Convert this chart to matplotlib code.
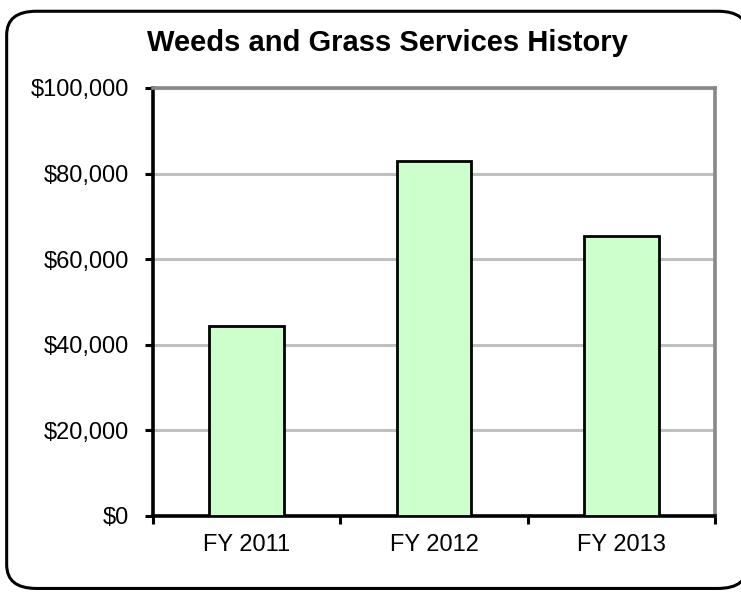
import matplotlib
matplotlib.use("Agg")
import matplotlib.pyplot as plt
from matplotlib.patches import FancyBboxPatch
from matplotlib.ticker import FuncFormatter, FixedLocator

years = ["FY 2011", "FY 2012", "FY 2013"]
spending = [44400, 83000, 65300]
yticks = [0, 20000, 40000, 60000, 80000, 100000]

plt.rcParams['font.family'] = ['Liberation Sans', 'DejaVu Sans']

fig = plt.figure(figsize=(7.41, 5.92), dpi=100)

# rounded frame around the whole chart
frame = FancyBboxPatch((0.009, 0.006), 1.0, 0.975,
                       boxstyle="round,pad=0,rounding_size=0.04",
                       transform=fig.transFigure, facecolor="white",
                       edgecolor="black", linewidth=2.2, zorder=-10)
fig.patches.append(frame)

ax = fig.add_axes([0.2065, 0.1284, 0.7584, 0.723])
ax.set_facecolor("none")

x = list(range(len(years)))
ax.bar(x, spending, width=0.4, color="#CCFFCC", edgecolor="black",
       linewidth=2, zorder=3)

ax.set_xlim(-0.5, 2.5)
ax.set_ylim(0, 100000)
ax.set_yticks(yticks)
ax.yaxis.set_major_formatter(FuncFormatter(lambda v, p: "${:,.0f}".format(v)))
ax.grid(axis="y", color="#C0C0C0", linewidth=2.2, zorder=0)

ax.set_xticks(x)
ax.set_xticklabels(years)
ax.xaxis.set_minor_locator(FixedLocator([-0.5, 0.5, 1.5, 2.5]))
ax.tick_params(axis="x", which="major", length=0, pad=13, labelsize=17)
ax.tick_params(axis="x", which="minor", length=6, width=2.2, direction="out")
ax.tick_params(axis="y", length=6, width=2.2, direction="out", pad=11,
               labelsize=17)

for side in ["left", "bottom"]:
    ax.spines[side].set_color("black")
    ax.spines[side].set_linewidth(2.6)
for side in ["top", "right"]:
    ax.spines[side].set_color("#888888")
    ax.spines[side].set_linewidth(2.6)

fig.text(0.523, 0.928, "Weeds and Grass Services History", ha="center",
         va="center", fontsize=21, fontweight="bold")

fig.savefig("out.png", dpi=100)
